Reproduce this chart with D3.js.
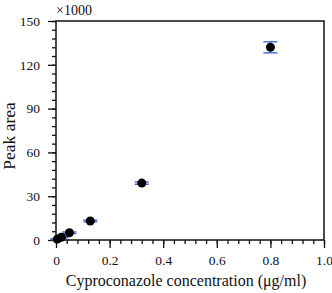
<!DOCTYPE html>
<html>
<head>
<meta charset="utf-8">
<script src="https://cdn.jsdelivr.net/npm/d3@7"></script>
<style>
  body { margin: 0; background: #fff; }
  text { font-family: "Liberation Serif", "Times New Roman", serif; fill: #111; }
</style>
</head>
<body>
<script>
const conc = [0.005, 0.02, 0.05, 0.128, 0.32, 0.8]
const area = [0.6, 1.9, 5, 13, 39, 132]   // x1000
const areaErr = [0.3, 0.4, 0.5, 0.6, 0.8, 3.8]
const xTicks = [0, 0.2, 0.4, 0.6, 0.8, 1.0]
const yTicks = [0, 30, 60, 90, 120, 150]

const [width, height] = [332, 293]
const m = {left: 56, right: 8, top: 21, bottom: 53}

const svg = d3.select('body').append('svg')
    .attr('width', width)
    .attr('height', height)

const x = d3.scaleLinear().domain([0, 1]).range([m.left, width - m.right])
const y = d3.scaleLinear().domain([0, 150]).range([height - m.bottom, m.top])

// rámeček
svg.append('rect')
    .attr('x', x(0)).attr('y', y(150))
    .attr('width', x(1) - x(0)).attr('height', y(0) - y(150))
    .attr('fill', 'none').attr('stroke', '#111').attr('stroke-width', 1.5)

// vedlejší tiky
const xMinor = d3.range(0, 1.0001, 0.04)
const yMinor = d3.range(0, 150.001, 6)
svg.append('g')
    .attr('transform', `translate(0,${y(0)})`)
    .call(d3.axisBottom(x).tickValues(xMinor).tickSize(4).tickFormat(''))
    .call(g => g.select('.domain').remove())
svg.append('g')
    .attr('transform', `translate(${x(0)},0)`)
    .call(d3.axisLeft(y).tickValues(yMinor).tickSize(4).tickFormat(''))
    .call(g => g.select('.domain').remove())

// hlavní tiky + popisky
svg.append('g')
    .attr('transform', `translate(0,${y(0)})`)
    .call(d3.axisBottom(x).tickValues(xTicks).tickSize(8).tickPadding(7)
        .tickFormat(d => d === 0 ? '0' : d3.format('.1f')(d)))
    .call(g => g.select('.domain').remove())
    .call(g => g.selectAll('text').attr('font-size', 13.5).attr('font-family', 'Liberation Serif'))
svg.append('g')
    .attr('transform', `translate(${x(0)},0)`)
    .call(d3.axisLeft(y).tickValues(yTicks).tickSize(8).tickPadding(8))
    .call(g => g.select('.domain').remove())
    .call(g => g.selectAll('text').attr('font-size', 13.5).attr('font-family', 'Liberation Serif'))

svg.selectAll('.tick line').attr('stroke', '#111').attr('stroke-width', 1.3)

// názvy os
svg.append('text')
    .attr('x', 186).attr('y', 286)
    .attr('text-anchor', 'middle').attr('font-size', 16)
    .text('Cyproconazole concentration (μg/ml)')
svg.append('text')
    .attr('transform', 'translate(15,136) rotate(-90)')
    .attr('text-anchor', 'middle').attr('font-size', 17.5)
    .text('Peak area')
svg.append('text')
    .attr('x', x(0)).attr('y', 15)
    .attr('font-size', 14)
    .text('×1000')

// chybové úsečky
const pts = conc.map((c, i) => ({c, a: area[i], e: areaErr[i]}))
const eb = svg.append('g').attr('stroke', '#4a72d8').attr('stroke-width', 1.5)
eb.selectAll('line.v').data(pts).enter().append('line')
    .attr('x1', d => x(d.c)).attr('x2', d => x(d.c))
    .attr('y1', d => y(d.a - d.e)).attr('y2', d => y(d.a + d.e))
eb.selectAll('line.t').data(pts).enter().append('line')
    .attr('x1', d => x(d.c) - 7).attr('x2', d => x(d.c) + 7)
    .attr('y1', d => y(d.a + d.e)).attr('y2', d => y(d.a + d.e))
eb.selectAll('line.b').data(pts).enter().append('line')
    .attr('x1', d => x(d.c) - 7).attr('x2', d => x(d.c) + 7)
    .attr('y1', d => y(d.a - d.e)).attr('y2', d => y(d.a - d.e))

svg.append('g').selectAll('circle').data(pts).enter().append('circle')
    .attr('cx', d => x(d.c)).attr('cy', d => y(d.a))
    .attr('r', 4.5).attr('fill', '#000')
</script>
</body>
</html>
